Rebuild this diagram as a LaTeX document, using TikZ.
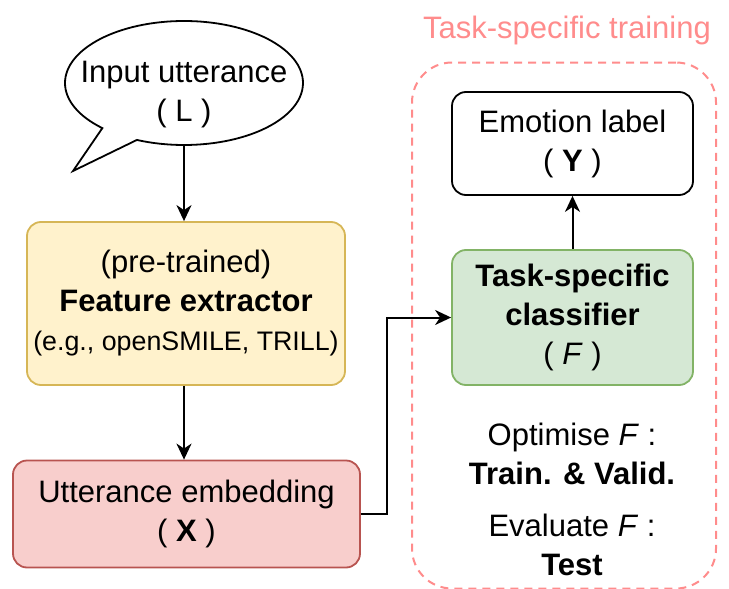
\documentclass[tikz,border=0pt]{standalone}
\usepackage{fontspec}
\setmainfont{Liberation Sans}
\usepackage{tikz}
\usetikzlibrary{positioning,arrows.meta,shapes.callouts}

\definecolor{featfill}{HTML}{FFF2CC}
\definecolor{featline}{HTML}{D6B656}
\definecolor{embfill}{HTML}{F8CECC}
\definecolor{embline}{HTML}{B85450}
\definecolor{clsfill}{HTML}{D5E8D4}
\definecolor{clsline}{HTML}{82B366}
\definecolor{trainred}{HTML}{FF8C8C}

\tikzset{
  mainfont/.style={font=\fontsize{15.5}{19.5}\selectfont},
  box/.style={draw, rectangle, rounded corners=7pt, line width=0.9pt, inner sep=0pt, align=center, mainfont},
  arr/.style={-{Stealth[length=8pt,width=7.5pt,inset=2.5pt]}, line width=1pt},
}

\begin{document}
\begin{tikzpicture}[x=0.5pt, y=-0.5pt]
        \useasboundingbox (0,0) rectangle (729,589);
        \node[draw, ellipse callout, line width=0.9pt, minimum width=119pt, minimum height=62pt,
              callout absolute pointer={(73,171)}, callout pointer arc=20] (bubble) at (184,83) {};
        \node[align=center, mainfont] (inputtxt) at (184,95) {Input utterance\\( L )};
        \node[box, fill=featfill, draw=featline, minimum width=159pt, minimum height=81.5pt] (feat) at (186,303.5)
            {(pre-trained)\\\textbf{Feature extractor}\\{\fontsize{13.4}{19.5}\selectfont (e.g., openSMILE, TRILL)}};
        \node[box, fill=embfill, draw=embline, minimum width=173.5pt, minimum height=53.5pt] (embed) at (186.5,514)
            {Utterance embedding\\( \textbf{X} )};
        \node[draw=trainred, dashed, dash pattern=on 4pt off 3pt, line width=1pt, rectangle, rounded corners=20pt,
              minimum width=152pt, minimum height=263pt] (train) at (564,325.5) {};
        \node[text=trainred, mainfont] (traintxt) at (567,30) {Task-specific training};
        \node[box, fill=white, draw=black, minimum width=120.5pt, minimum height=51.5pt] (emotion) at (572.5,143.5)
            {Emotion label\\( \textbf{Y} )};
        \node[box, fill=clsfill, draw=clsline, minimum width=120.5pt, minimum height=67.5pt] (cls) at (572.5,317.5)
            {\textbf{Task-specific}\\\textbf{classifier}\\( \textit{F} )};
        \node[align=center, mainfont] (optim) at (572,454) {Optimise \textit{F} :\\\textbf{Train. \& Valid.}};
        \node[align=center, mainfont] (evalu) at (572,545) {Evaluate \textit{F} :\\\textbf{Test}};
        \draw[arr] (bubble.south) -- (bubble.south |- feat.north);
        \draw[arr] (feat.south -| bubble.south) -- (bubble.south |- embed.north);
        \draw[arr, rounded corners=0pt] (embed.east) -- ++(26,0) |- (cls.west);
        \draw[arr] (cls.north) -- (emotion.south);
    \end{tikzpicture}
\end{document}
